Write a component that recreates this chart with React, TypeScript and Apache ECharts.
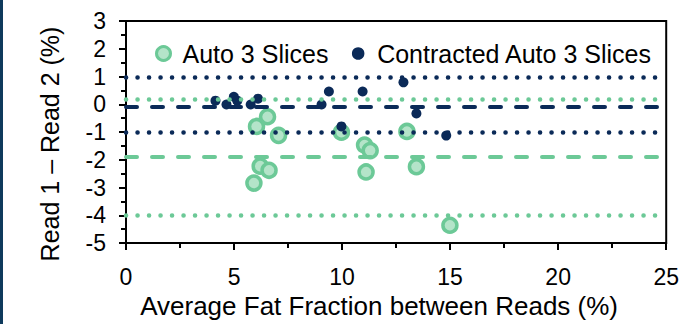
import React, { useEffect, useRef } from "react";
import * as echarts from "echarts";

const autoX = [6.04, 6.55, 7.06, 6.21, 6.62, 5.92, 9.97, 13.0, 11.04, 11.3, 11.11, 13.44, 14.99];
const autoY = [-0.8, -0.45, -1.12, -2.23, -2.38, -2.84, -1.01, -0.98, -1.47, -1.67, -2.44, -2.25, -4.36];
const contractedX = [4.14, 4.65, 4.99, 5.15, 5.77, 6.11, 9.05, 9.39, 9.97, 10.95, 12.84, 13.44, 14.82];
const contractedY = [0.13, -0.01, 0.27, 0.13, -0.01, 0.2, -0.01, 0.46, -0.8, 0.46, 0.79, -0.33, -1.13];

const autoLines = { upper: 0.17, mean: -1.9, lower: -3.99 };
const contractedLines = { upper: 0.96, mean: -0.08, lower: -1.01 };

const seriesNames = ["Auto 3 Slices", "Contracted Auto 3 Slices"];
const xTitle = "Average Fat Fraction between Reads (%)";
const yTitle = "Read 1 \u2013 Read 2 (%)";

const GREEN = "#6cc997";
const GREEN_FILL = "#b4e4c9";
const NAVY = "#0b2a58";
const FONT = "'Liberation Sans', Arial, sans-serif";

const dotted = (color: string) => ({ color, width: 4.5, type: [0.1, 11.4], cap: "round" });
const dashed = (color: string) => ({ color, width: 4, type: [11, 15], cap: "round" });

export default function App() {
  const ref = useRef<HTMLDivElement>(null);
  useEffect(() => {
    document.body.style.margin = "0";
    const chart = echarts.init(ref.current!, null, { renderer: "svg" });
    chart.setOption({
      animation: false,
      textStyle: { fontFamily: FONT },
      graphic: [
        { type: "rect", shape: { x: 0, y: 0, width: 3, height: 324 }, style: { fill: "#0e3a5c" } },
      ],
      grid: {
        left: 126,
        right: 11,
        top: 21,
        bottom: 75,
        show: true,
        borderColor: "#000",
        borderWidth: 2,
      },
      legend: {
        left: 155,
        top: 41,
        padding: 0,
        itemWidth: 14,
        itemHeight: 14,
        itemGap: 22,
        textStyle: { fontSize: 25, color: "#000", fontFamily: FONT, padding: [0, 0, 0, 7] },
        data: [
          { name: seriesNames[0], icon: "circle", itemStyle: { color: GREEN_FILL, borderColor: GREEN, borderWidth: 3 } },
          { name: seriesNames[1], icon: "circle", itemStyle: { color: NAVY, borderColor: "#fff", borderWidth: 1.5 } },
        ],
      },
      xAxis: {
        type: "value",
        min: 0,
        max: 25,
        interval: 5,
        name: xTitle,
        nameLocation: "middle",
        nameGap: 50,
        nameTextStyle: { fontSize: 26, color: "#000", fontFamily: FONT, padding: [0, 34, 0, 0] },
        axisLine: { show: true, onZero: false, lineStyle: { color: "#000", width: 2 } },
        axisTick: { show: true, length: 7, lineStyle: { color: "#000", width: 2 } },
        minorTick: { show: true, splitNumber: 2, length: 5, lineStyle: { color: "#000", width: 2 } },
        axisLabel: { fontSize: 23, color: "#000", margin: 22, fontFamily: FONT },
        splitLine: { show: false },
      },
      yAxis: {
        type: "value",
        min: -5,
        max: 3,
        interval: 1,
        name: yTitle,
        nameLocation: "middle",
        nameGap: 64,
        nameTextStyle: { fontSize: 25, color: "#000", fontFamily: FONT, padding: [0, 24, 0, 0] },
        axisLine: { show: true, onZero: false, lineStyle: { color: "#000", width: 2 } },
        axisTick: { show: true, length: 7, lineStyle: { color: "#000", width: 2 } },
        minorTick: { show: true, splitNumber: 2, length: 5, lineStyle: { color: "#000", width: 2 } },
        axisLabel: { fontSize: 23, color: "#000", margin: 20, fontFamily: FONT },
        splitLine: { show: false },
      },
      series: [
        {
          name: seriesNames[0],
          type: "scatter",
          symbol: "circle",
          symbolSize: 14,
          itemStyle: { color: GREEN_FILL, borderColor: GREEN, borderWidth: 3.5, opacity: 1 },
          data: autoX.map((x, i) => [x, autoY[i]]),
          markLine: {
            silent: true,
            symbol: "none",
            label: { show: false },
            emphasis: { disabled: true },
            data: [
              { yAxis: autoLines.upper, lineStyle: dotted(GREEN) },
              { yAxis: autoLines.mean, lineStyle: dashed(GREEN) },
              { yAxis: autoLines.lower, lineStyle: dotted(GREEN) },
            ],
          },
        },
        {
          name: seriesNames[1],
          type: "scatter",
          symbol: "circle",
          symbolSize: 10,
          itemStyle: { color: NAVY, opacity: 1 },
          data: contractedX.map((x, i) => [x, contractedY[i]]),
          markLine: {
            silent: true,
            symbol: "none",
            label: { show: false },
            emphasis: { disabled: true },
            data: [
              { yAxis: contractedLines.upper, lineStyle: dotted(NAVY) },
              { yAxis: contractedLines.mean, lineStyle: dashed(NAVY) },
              { yAxis: contractedLines.lower, lineStyle: dotted(NAVY) },
            ],
          },
        },
      ],
    });
    return () => chart.dispose();
  }, []);
  return <div ref={ref} style={{ width: 682, height: 324 }} />;
}
